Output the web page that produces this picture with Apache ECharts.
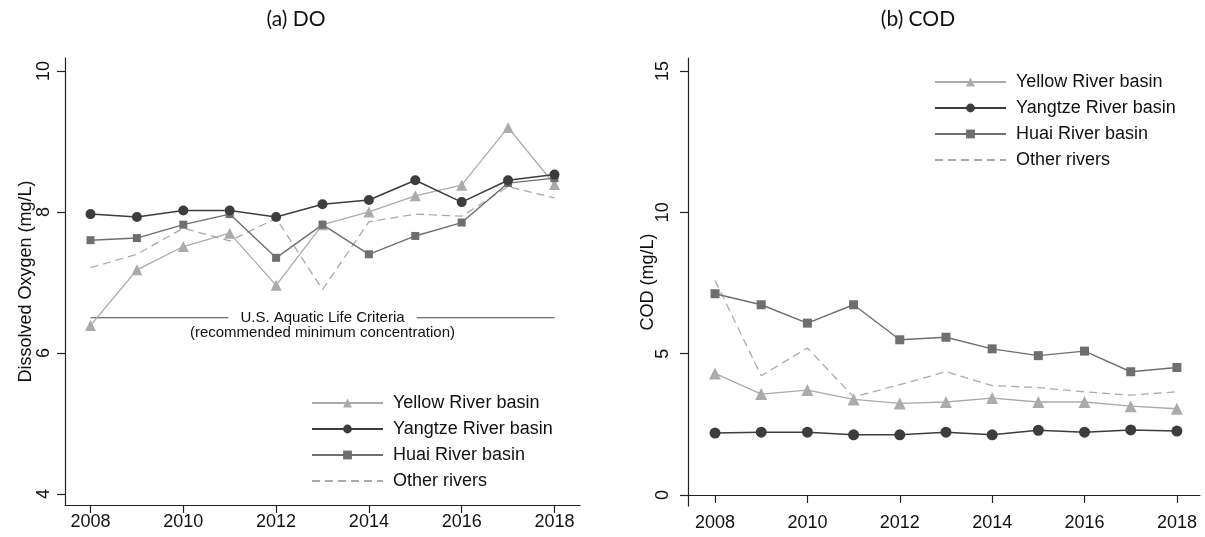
<!DOCTYPE html>
<html>
<head>
<meta charset="utf-8">
<script src="https://cdn.jsdelivr.net/npm/echarts@6/dist/echarts.min.js"></script>
<style>
html,body{margin:0;padding:0;background:#fff;}
#c{width:1205px;height:537px;}
</style>
</head>
<body>
<div id="c"></div>
<script>
const years = [2008, 2009, 2010, 2011, 2012, 2013, 2014, 2015, 2016, 2017, 2018];
const seriesNames = ['Yellow River basin', 'Yangtze River basin', 'Huai River basin', 'Other rivers'];

const doYellow  = [6.39, 7.18, 7.51, 7.70, 6.96, 7.82, 8.00, 8.23, 8.38, 9.20, 8.39];
const doYangtze = [7.97, 7.93, 8.02, 8.02, 7.93, 8.11, 8.17, 8.45, 8.14, 8.45, 8.53];
const doHuai    = [7.60, 7.63, 7.82, 7.97, 7.35, 7.82, 7.40, 7.66, 7.85, 8.41, 8.48];
const doOther   = [7.21, 7.40, 7.77, 7.59, 7.91, 6.90, 7.86, 7.97, 7.94, 8.36, 8.20];

const codYellow  = [4.30, 3.57, 3.71, 3.38, 3.24, 3.29, 3.43, 3.29, 3.29, 3.14, 3.05];
const codYangtze = [2.19, 2.22, 2.22, 2.13, 2.13, 2.22, 2.13, 2.29, 2.22, 2.30, 2.26];
const codHuai    = [7.12, 6.73, 6.08, 6.73, 5.49, 5.58, 5.17, 4.93, 5.09, 4.36, 4.51];
const codOther   = [7.59, 4.22, 5.20, 3.47, 3.90, 4.36, 3.87, 3.80, 3.65, 3.53, 3.65];

const doTicks = [4, 6, 8, 10];
const codTicks = [0, 5, 10, 15];
const yearTicks = [2008, 2010, 2012, 2014, 2016, 2018];
const criteriaValue = 6.5;
const criteriaLabel1 = 'U.S. Aquatic Life Criteria';
const criteriaLabel2 = '(recommended minimum concentration)';
const panelTitles = ['(a) DO', '(b) COD'];
const yNames = ['Dissolved Oxygen (mg/L)', 'COD (mg/L)'];

const FONT = 'Liberation Sans, Arial, sans-serif';
const AX = '#222';

const styles = [
  {color: '#ababab', symbol: 'triangle', size: 11, width: 1.3, type: 'solid', z: 3},
  {color: '#3d3d3d', symbol: 'circle', size: 10, width: 1.5, type: 'solid', z: 4},
  {color: '#6f6f6f', symbol: 'rect', size: 8, width: 1.4, type: 'solid', z: 3},
  {color: '#aaaaaa', symbol: 'none', size: 0, width: 1.3, type: [8, 5], z: 2}
];

function pairs(vals) { return years.map((y, i) => [y, vals[i]]); }

function mkSeries(gi, valsList, sizeAdj) {
  return valsList.map((vals, k) => {
    const s = styles[k];
    return {
      name: seriesNames[k],
      type: 'line',
      xAxisIndex: gi, yAxisIndex: gi,
      data: pairs(vals),
      symbol: s.symbol,
      symbolSize: s.size + (s.symbol === 'none' ? 0 : sizeAdj),
      showSymbol: s.symbol !== 'none',
      lineStyle: {color: s.color, width: s.width, type: s.type},
      itemStyle: {color: s.color},
      z: s.z,
      silent: true,
      animation: false
    };
  });
}

function xAxis(gi, min, max) {
  return {
    type: 'value', gridIndex: gi, min: min, max: max,
    splitLine: {show: false},
    axisLine: {show: true, lineStyle: {color: AX, width: 1.2}},
    axisTick: {show: true, length: 8, lineStyle: {color: AX, width: 1.2}, customValues: yearTicks},
    axisLabel: {show: true, color: '#111', fontFamily: FONT, fontSize: 18, margin: 8, customValues: yearTicks,
      formatter: v => String(v)}
  };
}
function yAxis(gi, min, max, ticks, name, nameGap, margin) {
  return {
    type: 'value', gridIndex: gi, min: min, max: max,
    name: name, nameLocation: 'middle', nameGap: nameGap, nameMoveOverlap: false,
    nameTextStyle: {color: '#111', fontFamily: FONT, fontSize: 18},
    splitLine: {show: false},
    axisLine: {show: true, lineStyle: {color: AX, width: 1.2}},
    axisTick: {show: true, length: 8, lineStyle: {color: AX, width: 1.2}, customValues: ticks},
    axisLabel: {show: true, rotate: 90, color: '#111', fontFamily: FONT, fontSize: 18, margin: margin, customValues: ticks,
      formatter: v => String(v)}
  };
}

function legend(left, top) {
  return {
    left: left, top: top, orient: 'vertical', padding: 0,
    itemWidth: 71, itemHeight: 11, itemGap: 6,
    data: seriesNames.map((n, k) => styles[k].symbol === 'none'
      ? {name: n, itemStyle: {opacity: 0}} : {name: n}),
    selectedMode: false,
    textStyle: {color: '#111', fontFamily: FONT, fontSize: 18, lineHeight: 20, padding: [0, 0, 0, 5]}
  };
}

const chart = echarts.init(document.getElementById('c'), null, {renderer: 'canvas'});

const criteriaSeries = {
  name: 'criteria', type: 'line', xAxisIndex: 0, yAxisIndex: 0,
  data: [[years[0], criteriaValue], [years[years.length - 1], criteriaValue]],
  symbol: 'none', showSymbol: false, silent: true, animation: false,
  lineStyle: {color: '#444', width: 1.2}, z: 1
};

chart.setOption({
  backgroundColor: '#fff',
  animation: false,
  grid: [
    {left: 65, top: 58, width: 515, height: 447},
    {left: 688, top: 58, width: 512, height: 448}
  ],
  xAxis: [xAxis(0, 2007.45, 2018.55), xAxis(1, 2007.415, 2018.5)],
  yAxis: [
    yAxis(0, 3.844, 10.184, doTicks, yNames[0], 30, 12),
    yAxis(1, -0.39, 15.46, codTicks, yNames[1], 31, 16)
  ],
  legend: [legend(311, 393), legend(934, 72)],
  series: [criteriaSeries]
    .concat(mkSeries(0, [doYellow, doYangtze, doHuai, doOther], 0))
    .concat(mkSeries(1, [codYellow, codYangtze, codHuai, codOther], 1))
});

const mid = chart.convertToPixel({xAxisIndex: 0, yAxisIndex: 0}, [(years[0] + years[years.length - 1]) / 2, criteriaValue]);

chart.setOption({
  graphic: [
    {type: 'text', x: 296, y: 19, z: 100, style: {text: panelTitles[0], font: '21px Lato, "Open Sans", sans-serif', fill: '#111', align: 'center', verticalAlign: 'middle'}},
    {type: 'text', x: 918, y: 19, z: 100, style: {text: panelTitles[1], font: '21px Lato, "Open Sans", sans-serif', fill: '#111', align: 'center', verticalAlign: 'middle'}},
    {type: 'text', x: mid[0], y: mid[1], z: 100, style: {text: criteriaLabel1, font: '15px "Liberation Sans", Arial, sans-serif', fill: '#111', align: 'center', verticalAlign: 'middle', backgroundColor: '#fff', padding: [1, 12]}},
    {type: 'text', x: mid[0], y: mid[1] + 15.5, z: 100, style: {text: criteriaLabel2, font: '15px "Liberation Sans", Arial, sans-serif', fill: '#111', align: 'center', verticalAlign: 'middle'}}
  ]
});
</script>
</body>
</html>
